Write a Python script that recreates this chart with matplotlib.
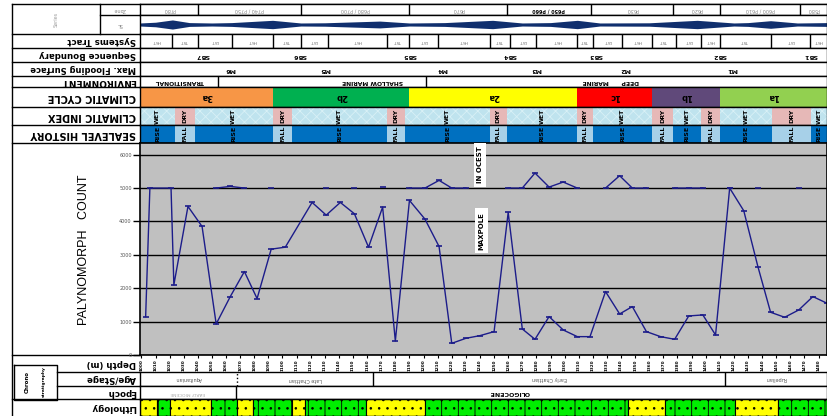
"""Palynomorph count log with sequence-stratigraphic and climatic header tracks.

Every header/footer track shares the depth axis of the count panel; the sheet
labels are printed upside down, as on the original chart.
"""

import matplotlib
matplotlib.use("Agg")
import matplotlib.pyplot as plt
import numpy as np

FIG_W, FIG_H = 827, 416
TRACK_X0, TRACK_X1 = 140, 827

# ---- depth axis (m) ---------------------------------------------------------
DEPTH_RANGE = (999, 1486)
DEPTH_TICKS = list(range(1000, 1481, 10))

# ---- palynomorph counts -----------------------------------------------------
SAMPLE_DEPTH = [1003, 1006, 1021, 1023, 1033, 1043, 1053, 1063, 1073, 1082,
                1092, 1102, 1121, 1131, 1141, 1151, 1161, 1171, 1180, 1190,
                1201, 1211, 1220, 1230, 1240, 1250, 1260, 1270, 1279, 1289,
                1299, 1309, 1318, 1329, 1339, 1348, 1358, 1368, 1378, 1388,
                1398, 1407, 1417, 1427, 1437, 1446, 1456, 1466, 1476, 1486]
PALY_COUNT = [1150, 5000, 5000, 2100, 4450, 3850, 930, 1750, 2500, 1690,
              3170, 3230, 4570, 4190, 4570, 4230, 3230, 4430, 420, 4630,
              4070, 3250, 350, 500, 580, 700, 4270, 780, 470, 1150,
              750, 550, 550, 1900, 1230, 1450, 700, 550, 470, 1170,
              1200, 600, 5000, 4320, 2650, 1280, 1130, 1350, 1750, 1550]
# second count, only plotted where it rises onto / above the 5000 line
UPPER_COUNT = [None, None, None, None, None, None, 5000, 5050, 5000, None,
               5000, None, None, 5000, None, 5000, None, 5030, None, 5000,
               5000, 5230, 5000, 5000, None, None, 5000, 5000, 5450, 5030,
               5180, 5000, None, 5000, 5370, 5000, 5000, None, 5000, 5000,
               5000, None, 5000, None, 5000, None, None, 5000, None, None]
Y_TICKS = [0, 1000, 2000, 3000, 4000, 5000, 6000]
ANNOT_TEXT = ["IN OCEST", "MAXPOLE"]
ANNOT_DEPTH = [1240, 1241]
ANNOT_COUNT = [5700, 3720]

# ---- header tracks ----------------------------------------------------------
ZONE_EDGES = [999, 1040, 1113, 1190, 1259, 1319, 1377, 1410, 1467, 1486]
ZONE_NAMES = ["P780", "P740 / P750", "P680 / P700", "P670", "P650 / P660",
              "P630", "P620", "P600 / P610", "P580"]

WAVE_DEPTH = [999, 1010, 1022, 1034, 1050, 1064, 1093, 1113, 1130, 1169,
              1190, 1215, 1249, 1270, 1290, 1309, 1325, 1360, 1394, 1420,
              1430, 1446, 1465, 1486]
WAVE_HALF = [0.08, 0.12, 0.24, 0.10, 0.08, 0.10, 0.22, 0.08, 0.09, 0.18,
             0.08, 0.10, 0.22, 0.08, 0.10, 0.22, 0.08, 0.09, 0.22, 0.08,
             0.10, 0.20, 0.08, 0.10]

TRACT_EDGES = [999, 1022, 1040, 1064, 1093, 1113, 1132, 1174, 1190, 1210,
               1247, 1261, 1280, 1309, 1320, 1341, 1362, 1379, 1397, 1410,
               1446, 1474, 1486]
TRACT_NAMES = ["HST", "TST", "LST", "HST", "TST", "LST", "HST", "TST", "LST",
               "HST", "TST", "LST", "HST", "TST", "LST", "HST", "TST", "LST",
               "HST", "TST", "LST", "HST"]

SB_DEPTH = [1043, 1112, 1190, 1261, 1322, 1410, 1474]
SB_NAMES = ["SB7", "SB6", "SB5", "SB4", "SB3", "SB2", "SB1"]
MFS_DEPTH = [1063, 1130, 1213, 1280, 1343, 1419]
MFS_NAMES = ["M6", "M5", "M4", "M3", "M2", "M1"]

ENV_EDGES = [999, 1054, 1202, 1486]
ENV_NAMES = ["TRANSITIONAL", "SHALLOW MARINE", "DEEP      MARINE"]
ENV_LABEL_DEPTH = [1027, 1164, 1333]

CYCLE_EDGES = [999, 1093, 1190, 1309, 1362, 1410, 1486]
CYCLE_NAMES = ["3a", "2b", "2a", "1c", "1b", "1a"]
CYCLE_COLORS = ["#f79646", "#00b050", "#ffff00", "#ff0000", "#60497a", "#92d050"]

INDEX_EDGES = [999, 1024, 1038, 1093, 1107, 1174, 1187, 1247, 1259, 1309,
               1320, 1362, 1377, 1397, 1410, 1447, 1475, 1486]
INDEX_STATE = ["WET", "DRY", "WET", "DRY", "WET", "DRY", "WET", "DRY", "WET",
               "DRY", "WET", "DRY", "WET", "DRY", "WET", "DRY", "WET"]
SEALEVEL_STATE = ["RISE" if s == "WET" else "FALL" for s in INDEX_STATE]

# ---- footer tracks ----------------------------------------------------------
AGE_EDGES = [999, 1068, 1164, 1414, 1486]
AGE_NAMES = ["Aquitanian", "Late Chattian", "Early Chattian", "Rupelian"]
EPOCH_EDGES = [999, 1067, 1486]
EPOCH_NAMES = ["EARLY MIOCENE", "OLIGOCENE"]
EPOCH_LABEL_DEPTH = [1033, 1261]

LITH_EDGES = [999, 1011, 1020, 1049, 1068, 1079, 1107, 1116, 1159, 1201,
              1345, 1371, 1421, 1451, 1486]
LITH_TYPE = ["sand", "shale", "sand", "shale", "sand", "shale", "sand",
             "shale", "sand", "shale", "sand", "shale", "sand", "shale"]

# ---- styling ------------------------------------------------------------------
INK = "#1c1c8a"
WET_BLUE, DRY_PINK = "#bfe3ee", "#e6b8b7"
RISE_BLUE, FALL_BLUE = "#0070c0", "#a7d0e8"
LITH_STYLE = {"sand": ("#ffff00", ".."), "shale": ("#00ee00", "|..")}

# row layout on the sheet, in pixels from the top
ROWS = {
    "zone": (4, 15), "wave": (15, 34), "tract": (34, 48), "sb": (48, 62),
    "mfs": (62, 76), "env": (76, 87), "cycle": (87, 107), "index": (107, 125),
    "sea": (125, 143), "count": (143, 355), "depth": (355, 372),
    "age": (372, 386), "epoch": (386, 399), "lith": (399, 416),
}
ROW_LABELS = [
    ("tract", "Systems Tract", 6.2), ("sb", "Sequence Boundary", 6.2),
    ("mfs", "Max. Flooding Surface", 6.0), ("env", "ENVIRONMENT", 6.5),
    ("cycle", "CLIMATIC CYCLE", 7), ("index", "CLIMATIC INDEX", 7),
    ("sea", "SEALEVEL HISTORY", 7), ("depth", "Depth (m)", 6.2),
    ("age", "Age/Stage", 6.2), ("epoch", "Epoch", 6.2),
    ("lith", "Lithology", 6.2),
]

plt.rcParams["hatch.linewidth"] = 0.6


def px_axes(fig, x0, y0, x1, y1):
    return fig.add_axes([x0 / FIG_W, 1 - y1 / FIG_H,
                         (x1 - x0) / FIG_W, (y1 - y0) / FIG_H])


def track(fig, key):
    y0, y1 = ROWS[key]
    ax = px_axes(fig, TRACK_X0, y0, TRACK_X1, y1)
    ax.set_xlim(*DEPTH_RANGE)
    ax.set_ylim(0, 1)
    ax.set_xticks([]); ax.set_yticks([])
    for sp in ax.spines.values():
        sp.set_linewidth(1.0)
    return ax


def flipped(ax, x, y, s, **kw):
    """The sheet prints its labels upside down."""
    kw.setdefault("ha", "center")
    kw.setdefault("va", "center")
    return ax.text(x, y, s, rotation=180, rotation_mode="anchor", **kw)


def cell_lines(ax, edges, **kw):
    for e in edges[1:-1]:
        ax.axvline(e, color="black", lw=kw.pop("lw", 1.0), **kw)


def draw_frame(fig):
    fr = fig.add_axes([0, 0, 1, 1])
    fr.set_xlim(0, FIG_W); fr.set_ylim(FIG_H, 0); fr.axis("off")
    k = dict(color="black", lw=1.0)
    fr.plot([12, 12], [4, 416], **k)
    fr.plot([12, TRACK_X1], [4, 4], **k)
    fr.plot([100, 100], [4, 34], **k)
    fr.plot([100, 140], [15, 15], **k)
    for key in ["wave", "tract", "sb", "mfs", "env", "cycle", "index", "sea"]:
        fr.plot([12, 140], [ROWS[key][1]] * 2, **k)
    fr.plot([12, 140], [355, 355], **k)
    fr.plot([57, 140], [372, 372], **k)
    fr.plot([57, 140], [386, 386], **k)
    fr.plot([12, 140], [399, 399], **k)
    fr.plot([14, 57, 57, 14, 14], [365, 365, 400, 400, 365], **k)

    fr.text(56, 19, "Series", rotation=90, fontsize=3.5, color="#999999",
            ha="center", va="center")
    flipped(fr, 120, 9.5, "Zone", fontsize=3.5, color="#888888")
    flipped(fr, 120, 24.5, "SL", fontsize=3.5, color="#888888")
    for key, name, size in ROW_LABELS:
        y0, y1 = ROWS[key]
        flipped(fr, 136, (y0 + y1) / 2, name, ha="left", fontsize=size,
                fontweight="bold")
    fr.text(27, 382, "Chrono", rotation=90, fontsize=4, fontweight="bold",
            ha="center", va="center")
    fr.text(44, 382, "stratigraphy", rotation=90, fontsize=3.2,
            fontweight="bold", ha="center", va="center")
    fr.text(84, 250, "PALYNOMORPH   COUNT", rotation=90, fontsize=9,
            family=["Liberation Sans Narrow", "Liberation Sans"],
            fontstretch="condensed", ha="center", va="center")
    return fr


def draw_header(fig):
    ax = track(fig, "zone")
    cell_lines(ax, ZONE_EDGES)
    for i, name in enumerate(ZONE_NAMES):
        mid = (ZONE_EDGES[i] + ZONE_EDGES[i + 1]) / 2
        bold = name == "P650 / P660"
        flipped(ax, mid, 0.5, name, fontsize=3.5,
                color="black" if bold else "#888888",
                fontweight="bold" if bold else "normal")

    ax = track(fig, "wave")
    half = np.array(WAVE_HALF)
    ax.fill_between(WAVE_DEPTH, 0.5 - half, 0.5 + half, color="#102f6e", lw=0)

    ax = track(fig, "tract")
    cell_lines(ax, TRACT_EDGES)
    for i, name in enumerate(TRACT_NAMES):
        mid = (TRACT_EDGES[i] + TRACT_EDGES[i + 1]) / 2
        flipped(ax, mid, 0.5, name, fontsize=3.2, color="#777777")

    ax = track(fig, "sb")
    for d, name in zip(SB_DEPTH, SB_NAMES):
        flipped(ax, d, 0.45, name, fontsize=4.5, fontweight="bold")

    ax = track(fig, "mfs")
    for d, name in zip(MFS_DEPTH, MFS_NAMES):
        flipped(ax, d, 0.45, name, fontsize=4.5, fontweight="bold")

    ax = track(fig, "env")
    cell_lines(ax, ENV_EDGES)
    for d, name in zip(ENV_LABEL_DEPTH, ENV_NAMES):
        flipped(ax, d, 0.5, name, fontsize=4.3, fontweight="bold")

    ax = track(fig, "cycle")
    for i, (name, col) in enumerate(zip(CYCLE_NAMES, CYCLE_COLORS)):
        a, b = CYCLE_EDGES[i], CYCLE_EDGES[i + 1]
        ax.axvspan(a, b, facecolor=col, lw=0)
        flipped(ax, (a + b) / 2, 0.5, name, fontsize=6, fontweight="bold")

    ax = track(fig, "index")
    for i, state in enumerate(INDEX_STATE):
        a, b = INDEX_EDGES[i], INDEX_EDGES[i + 1]
        wet = state == "WET"
        ax.axvspan(a, b, facecolor=WET_BLUE if wet else DRY_PINK,
                   edgecolor="#d8f0f6" if wet else DRY_PINK,
                   hatch="xxx" if wet else None, lw=0)
        ax.text((a + b) / 2, 0.5, state, rotation=90, fontsize=4.5,
                fontweight="bold", ha="center", va="center")

    ax = track(fig, "sea")
    for i, state in enumerate(SEALEVEL_STATE):
        a, b = INDEX_EDGES[i], INDEX_EDGES[i + 1]
        ax.axvspan(a, b, facecolor=RISE_BLUE if state == "RISE" else FALL_BLUE,
                   lw=0)
        ax.text((a + b) / 2, 0.5, state, rotation=90, fontsize=4.5,
                fontweight="bold", ha="center", va="center")


def draw_counts(fig):
    y0, y1 = ROWS["count"]
    ax = px_axes(fig, TRACK_X0, y0, TRACK_X1, y1)
    ax.set_facecolor("#c0c0c0")
    ax.set_xlim(*DEPTH_RANGE)
    ax.set_ylim(0, 6350)
    ax.set_yticks(Y_TICKS)
    ax.set_yticklabels([str(v) for v in Y_TICKS])
    ax.yaxis.grid(True, color="black", lw=1.0)
    ax.set_axisbelow(True)
    ax.tick_params(axis="y", length=5, width=1, pad=1, labelsize=3.5,
                   labelcolor="#555555")
    ax.set_xticks(DEPTH_TICKS)
    ax.set_xticklabels([str(d) for d in DEPTH_TICKS], rotation=90,
                       fontsize=3, fontweight="bold")
    ax.tick_params(axis="x", length=2, width=0.8, pad=1)
    for sp in ax.spines.values():
        sp.set_linewidth(1.2)

    upper = np.array([np.nan if v is None else v for v in UPPER_COUNT], float)
    ax.plot(SAMPLE_DEPTH, PALY_COUNT, color=INK, lw=1.0, marker="_",
            ms=4, mew=1.2)
    ax.plot(SAMPLE_DEPTH, upper, color=INK, lw=1.0, marker="_", ms=4, mew=1.2)

    for s, d, c in zip(ANNOT_TEXT, ANNOT_DEPTH, ANNOT_COUNT):
        ax.text(d, c, s, rotation=90, fontsize=5, fontweight="bold",
                ha="center", va="center",
                bbox=dict(facecolor="white", edgecolor="none", pad=2.5))


def draw_footer(fig):
    ax = track(fig, "age")
    for e in AGE_EDGES[1:-1]:
        ax.axvline(e, color="black", lw=1.0, ls=":" if e == AGE_EDGES[1] else "-")
    for i, name in enumerate(AGE_NAMES):
        mid = (AGE_EDGES[i] + AGE_EDGES[i + 1]) / 2
        flipped(ax, mid, 0.5, name, fontsize=3.5, color="#555555")

    ax = track(fig, "epoch")
    cell_lines(ax, EPOCH_EDGES)
    flipped(ax, EPOCH_LABEL_DEPTH[0], 0.5, EPOCH_NAMES[0], fontsize=3.2,
            color="#aaaaaa")
    flipped(ax, EPOCH_LABEL_DEPTH[1], 0.5, EPOCH_NAMES[1], fontsize=4.5,
            fontweight="bold")

    ax = track(fig, "lith")
    for i, kind in enumerate(LITH_TYPE):
        col, hatch = LITH_STYLE[kind]
        ax.axvspan(LITH_EDGES[i], LITH_EDGES[i + 1], facecolor=col,
                   edgecolor="black", hatch=hatch, lw=0.8)


def main():
    fig = plt.figure(figsize=(FIG_W / 100, FIG_H / 100), dpi=100)
    fig.patch.set_facecolor("white")
    draw_frame(fig)
    draw_header(fig)
    draw_counts(fig)
    draw_footer(fig)
    fig.savefig("out.png", dpi=100)


if __name__ == "__main__":
    main()
